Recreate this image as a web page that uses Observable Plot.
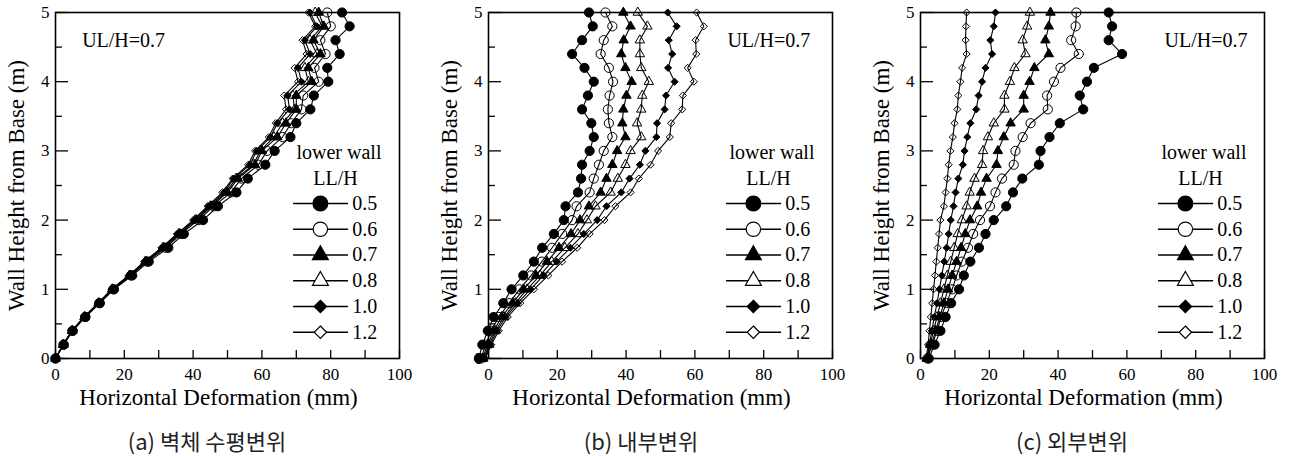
<!DOCTYPE html>
<html><head><meta charset="utf-8">
<script src="https://cdn.jsdelivr.net/npm/d3@7"></script>
<script src="https://cdn.jsdelivr.net/npm/@observablehq/plot@0.6"></script>
<style>
html,body{margin:0;padding:0;background:#fff;}
body{width:1290px;height:456px;position:relative;overflow:hidden;}
.panel{position:absolute;top:0;}
.cap{position:absolute;top:426px;font-family:"Noto Sans CJK KR",sans-serif;font-size:22px;line-height:28px;transform:translateX(-50%);white-space:nowrap;color:#222;}
</style></head><body>
<script>
// wall heights (m)
const heights = [0,0.2,0.4,0.6,0.8,1.0,1.2,1.4,1.6,1.8,2.0,2.2,2.4,2.6,2.8,3.0,3.2,3.4,3.6,3.8,4.0,4.2,4.4,4.6,4.8,5.0];
const seriesLabels = ["0.5","0.6","0.7","0.8","1.0","1.2"];
const xTickLabels = [0,20,40,60,80,100];
const xTicks = [0,10,20,30,40,50,60,70,80,90,100];
const yTickLabels = [0,1,2,3,4,5];
const yMinorTicks = [0.5,1.5,2.5,3.5,4.5];

// (a) wall horizontal deformation
const a05 = [0,2.4,5.0,8.7,12.9,17.0,22.3,27.1,32.8,37.3,42.9,47.2,52.6,55.9,61.0,63.7,68.3,70.0,74.1,75.1,79.3,79.0,82.6,81.4,85.5,83.3];
const a06 = [0,2.3,4.9,8.6,12.7,16.8,21.9,26.6,32.0,36.5,41.5,46.0,51.0,54.0,59.0,61.5,66.0,68.5,71.5,72.0,76.5,75.3,78.5,77.0,80.0,79.0];
const a07 = [0,2.3,4.9,8.5,12.6,16.6,21.7,26.3,31.5,36.1,41.0,45.3,50.0,53.0,58.0,60.0,64.5,67.0,70.0,70.0,74.5,73.5,77.0,75.0,78.0,76.5];
const a08 = [0,2.2,4.8,8.4,12.5,16.5,21.5,26.1,31.2,35.8,40.6,45.0,49.5,52.5,57.5,59.5,63.5,66.0,69.5,69.0,73.5,72.5,76.0,74.0,77.5,75.5];
const a10 = [0,2.2,4.8,8.4,12.4,16.4,21.4,26.0,31.0,35.5,40.3,44.5,49.0,51.8,56.5,58.5,62.5,64.5,68.0,67.5,71.5,70.5,74.0,72.5,76.0,74.0];
const a12 = [0,2.2,4.7,8.3,12.3,16.3,21.3,25.8,30.8,35.3,40.0,44.2,48.5,51.5,56.0,58.0,62.0,64.0,67.0,66.5,70.5,69.5,73.0,71.8,75.5,73.5];

// (b) inner deformation
const b05 = [-2.8,-1.8,-0.2,1.5,4.3,6.7,10.1,13.2,15.6,19.0,21.9,22.4,26.0,26.9,27.2,29.4,30.6,29.9,27.2,28.9,30.6,27.9,24.3,27.2,30.3,29.2];
const b06 = [-2.2,-0.8,0.8,3.0,6.0,9.0,12.4,15.5,18.5,21.4,24.3,25.6,29.4,30.6,32.1,33.5,36.0,35.0,34.7,35.2,36.2,35.0,32.6,33.5,36.0,34.0];
const b07 = [-1.8,-0.2,1.5,3.8,7.0,10.2,13.8,17.0,20.5,24.0,26.6,29.2,32.6,34.3,36.0,37.4,39.8,38.9,39.2,40.1,41.6,39.8,38.6,39.3,41.3,39.2];
const b08 = [-1.5,0.2,2.0,4.5,7.8,11.2,15.0,18.4,22.2,26.0,28.6,31.1,35.5,37.6,39.8,41.3,44.4,43.2,44.4,44.7,46.6,44.4,44.0,44.0,46.2,43.4];
const b10 = [-1.2,0.5,2.5,5.0,8.5,12.2,16.0,19.8,23.8,27.7,31.6,34.3,38.6,41.0,44.0,45.6,48.8,49.0,51.2,51.6,54.1,52.2,53.4,52.4,54.7,52.1];
const b12 = [-1.0,0.8,3.0,5.6,9.2,13.2,17.4,21.4,25.8,29.4,33.7,36.9,41.3,43.7,47.1,49.3,52.7,53.1,56.3,56.5,59.7,57.9,60.4,60.2,62.6,60.5];

// (c) outer deformation
const c05 = [2.4,4.1,5.8,7.3,8.9,11.2,12.6,14.5,17.0,18.9,21.3,24.9,26.9,29.6,34.4,34.9,37.5,40.5,47.3,46.3,48.4,50.4,58.6,54.7,55.7,54.7];
const c06 = [2.0,3.4,4.8,6.0,7.5,9.2,10.5,12.0,13.8,15.3,17.3,20.2,21.8,23.7,27.1,27.6,29.7,32.0,37.0,36.8,38.8,40.7,46.0,43.8,45.1,45.3];
const c07 = [2.0,3.2,4.4,5.6,6.8,8.0,9.2,10.5,11.8,13.0,14.4,16.5,17.6,19.2,22.1,22.5,24.2,26.2,30.0,30.0,31.7,33.1,37.3,36.3,37.3,37.8];
const c08 = [1.8,2.8,3.8,4.8,5.8,6.8,7.8,8.8,9.8,10.8,12.0,13.4,14.3,15.7,17.9,18.2,19.6,21.3,24.4,24.4,26.0,27.3,30.5,29.7,31.0,31.8];
const c10 = [1.8,2.6,3.3,4.0,4.8,5.5,6.2,6.9,7.6,8.2,8.8,9.6,10.2,11.0,12.3,12.8,13.6,14.5,16.2,16.9,17.9,18.9,20.8,20.3,21.3,21.8];
const c12 = [1.6,2.2,2.6,3.0,3.4,3.8,4.2,4.6,5.0,5.4,5.8,6.8,7.3,7.8,8.2,8.7,9.4,9.9,10.7,11.0,11.6,12.1,13.4,13.1,13.2,13.4];

const styles = [
  {symbol:"circle", filled:true, r:4.6, lr:7.4},
  {symbol:"circle", filled:false, r:4.6, lr:7.2},
  {symbol:"triangle", filled:true, r:3.5, lr:5.9},
  {symbol:"triangle", filled:false, r:3.5, lr:5.9},
  {symbol:"diamond2", filled:true, r:3.2, lr:5.6},
  {symbol:"diamond2", filled:false, r:3.2, lr:5.6}
];

const panels = [
  {left:0, ml:55, caption:"(a) 벽체 수평변위", capX:207, series:[a05,a06,a07,a08,a10,a12], ulX:19.8},
  {left:430, ml:58, caption:"(b) 내부변위", capX:641, series:[b05,b06,b07,b08,b10,b12], ulX:81.5},
  {left:860, ml:60, caption:"(c) 외부변위", capX:1072, series:[c05,c06,c07,c08,c10,c12], ulX:83}
];

const W = 430, PW = 344, PH = 346, MT = 12, H = 420;

for (const p of panels) {
  const marks = [];
  // ticks (inward)
  marks.push(Plot.tickY(yTickLabels, {stroke:"black", strokeWidth:1.3, insetRight: PW - 13}));
  marks.push(Plot.tickY(yMinorTicks, {stroke:"black", strokeWidth:1.3, insetRight: PW - 7}));
  marks.push(Plot.tickX(xTicks, {stroke:"black", strokeWidth:1.3, insetTop: PH - 8}));
  marks.push(Plot.axisX(xTickLabels, {tickSize:0, tickPadding:9, label:null, fontSize:17, tickFormat:d=>String(d)}));
  marks.push(Plot.axisY(yTickLabels, {tickSize:0, tickPadding:6, label:null, fontSize:17, tickFormat:d=>String(d)}));
  marks.push(Plot.frame({stroke:"black", strokeWidth:1.6}));
  // data
  p.series.forEach((vals) => {
    const rows = vals.map((v, i) => ({x: v, y: heights[i]}));
    marks.push(Plot.line(rows, {x:"x", y:"y", stroke:"black", strokeWidth:1.1}));
  });
  p.series.forEach((vals, si) => {
    const st = styles[si];
    const rows = vals.map((v, i) => ({x: v, y: heights[i]}));
    marks.push(Plot.dot(rows, {x:"x", y:"y", symbol: st.symbol, r: st.r,
      fill: st.filled ? "black" : "none", stroke:"black", strokeWidth:1}));
  });
  // legend
  const lgTop = 2.24, lgStep = 0.372;
  marks.push(Plot.text(["lower wall"], {x:82.4, y:2.98, text:d=>d, fontSize:20, fill:"black"}));
  marks.push(Plot.text(["LL/H"], {x:81.4, y:2.6, text:d=>d, fontSize:20, fill:"black"}));
  seriesLabels.forEach((lab, si) => {
    const st = styles[si];
    const yy = lgTop - si*lgStep;
    marks.push(Plot.ruleY([yy], {x1:69.2, x2:85.2, stroke:"black", strokeWidth:1.4}));
    marks.push(Plot.dot([yy], {x:77, y:d=>d, symbol:st.symbol, r:st.lr,
      fill: st.filled ? "black" : "white", stroke:"black", strokeWidth:1.2}));
    marks.push(Plot.text([lab], {x:86.3, y:yy, text:d=>d, textAnchor:"start", fontSize:20, fill:"black"}));
  });
  marks.push(Plot.text(["UL/H=0.7"], {x:p.ulX, y:4.6, text:d=>d, fontSize:20, fill:"black"}));
  // axis titles
  marks.push(Plot.text(["Horizontal Deformation (mm)"], {frameAnchor:"bottom", lineAnchor:"middle", textAnchor:"middle", dy:39, dx:-9, text:d=>d, fontSize:23, fill:"black"}));
  marks.push(Plot.text(["Wall Height from Base (m)"], {frameAnchor:"left", lineAnchor:"middle", textAnchor:"middle", dx:-39, rotate:-90, text:d=>d, fontSize:23, fill:"black"}));

  const chart = Plot.plot({
    width: W, height: H,
    marginLeft: p.ml, marginRight: W - p.ml - PW, marginTop: MT, marginBottom: H - MT - PH,
    x: {domain:[0,100], axis:null},
    y: {domain:[0,5], axis:null},
    style: {fontFamily:"'Liberation Serif', 'Times New Roman', serif", fontSize:"17px", background:"white", color:"black", overflow:"visible"},
    marks
  });
  const div = document.createElement("div");
  div.className = "panel";
  div.style.left = p.left + "px";
  div.appendChild(chart);
  document.body.appendChild(div);
  const cap = document.createElement("div");
  cap.className = "cap";
  cap.style.left = p.capX + "px";
  cap.textContent = p.caption;
  document.body.appendChild(cap);
}
</script>
</body></html>
